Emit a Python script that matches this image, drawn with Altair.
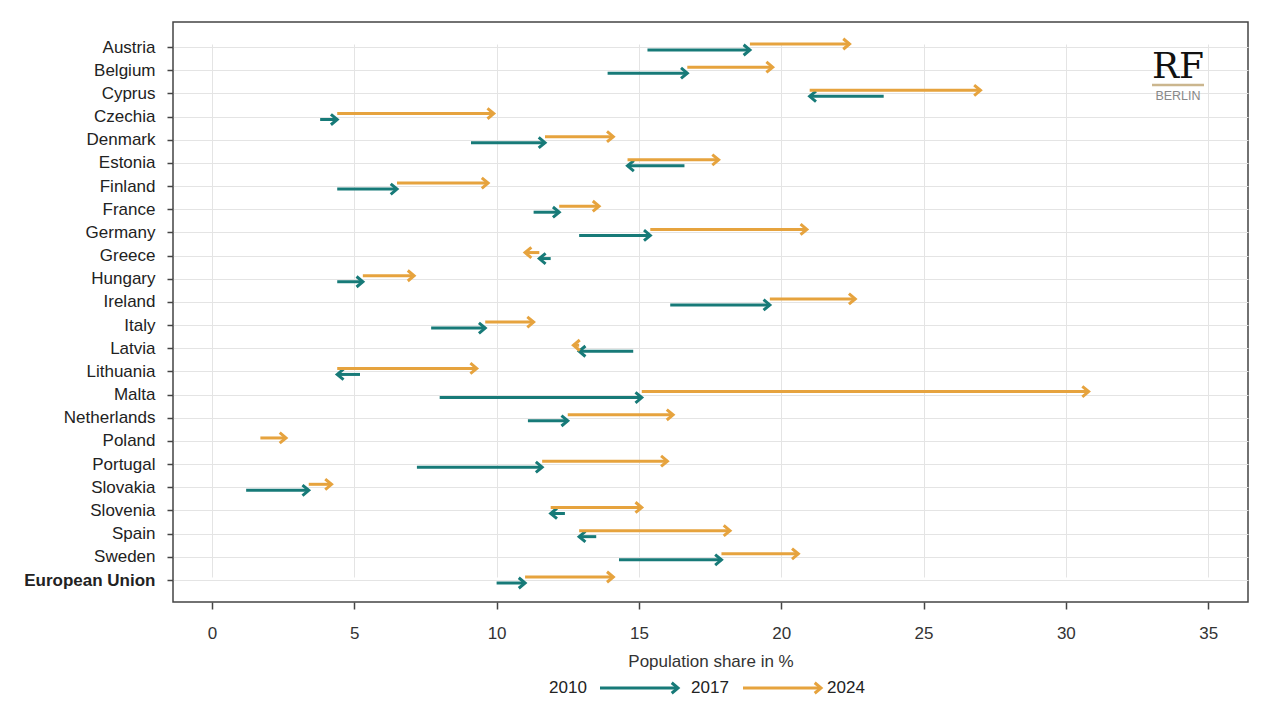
import altair as alt
import pandas as pd

countries = ["Austria", "Belgium", "Cyprus", "Czechia", "Denmark", "Estonia", "Finland",
             "France", "Germany", "Greece", "Hungary", "Ireland", "Italy", "Latvia",
             "Lithuania", "Malta", "Netherlands", "Poland", "Portugal", "Slovakia",
             "Slovenia", "Spain", "Sweden", "European Union"]
v2010 = [15.3, 13.9, 23.6, 3.8, 9.1, 16.6, 4.4, 11.3, 12.9, 11.9, 4.4, 16.1, 7.7, 14.8,
         5.2, 8.0, 11.1, 1.7, 7.2, 1.2, 12.4, 13.5, 14.3, 10.0]
v2017 = [18.9, 16.7, 21.0, 4.4, 11.7, 14.6, 6.5, 12.2, 15.4, 11.5, 5.3, 19.6, 9.6, 12.9,
         4.4, 15.1, 12.5, 1.7, 11.6, 3.4, 11.9, 12.9, 17.9, 11.0]
v2024 = [22.4, 19.7, 27.0, 9.9, 14.1, 17.8, 9.7, 13.6, 20.9, 11.0, 7.1, 22.6, 11.3, 12.7,
         9.3, 30.8, 16.2, 2.6, 16.0, 4.2, 15.1, 18.2, 20.6, 14.1]
legend_years = ["2010", "2017", "2024"]
x_ticks = [0, 5, 10, 15, 20, 25, 30, 35]

df = pd.DataFrame({"country": countries, "a": v2010, "b": v2017, "c": v2024})

W, H = 1075, 580
TEAL = "#177a78"
ORANGE = "#e6a33e"
FONT = "Liberation Sans"
FS = 17
HEAD = "M-1.2,-1L0,0L-1.2,1"

xscale = alt.Scale(domain=[-1.37, 36.4], nice=False, zero=False)
xaxis = alt.Axis(values=x_ticks, title="Population share in %", tickSize=7, labelPadding=16,
                 titlePadding=12, domain=False, grid=True, gridColor="#e4e4e4",
                 labelFontSize=FS, titleFontSize=FS, titleFontWeight="normal",
                 labelColor="#333", titleColor="#333", tickColor="#444", tickWidth=1.5,
                 labelFont=FONT, titleFont=FONT)
yaxis = alt.Axis(title=None, tickSize=6, labelPadding=12, domain=False, grid=True,
                 gridColor="#e4e4e4", labelFontSize=FS, labelColor="#222", tickColor="#444",
                 tickWidth=1.5, labelFont=FONT,
                 labelFontWeight=alt.expr("datum.value == 'European Union' ? 'bold' : 'normal'"))
yenc = alt.Y("country:N", sort=countries,
             scale=alt.Scale(type="point", range=[25, 558], padding=0), axis=yaxis)

base = alt.Chart(df)

teal_shaft = base.mark_rule(color=TEAL, strokeWidth=3, yOffset=3).encode(
    x=alt.X("a:Q", scale=xscale, axis=xaxis), x2="b:Q", y=yenc)
teal_head = base.transform_filter("abs(datum.b - datum.a) > 0.05").transform_calculate(
    ang="datum.b >= datum.a ? 0 : 180").mark_point(
    shape=HEAD, filled=False, color=TEAL, strokeWidth=3, size=110, yOffset=3, opacity=1,
    strokeJoin="miter").encode(
    x="b:Q", y=yenc, angle=alt.Angle("ang:Q", scale=None))

orange_shaft = base.mark_rule(color=ORANGE, strokeWidth=3, yOffset=-3).encode(
    x="b:Q", x2="c:Q", y=yenc)
orange_head = base.transform_filter("abs(datum.c - datum.b) > 0.05").transform_calculate(
    ang="datum.c >= datum.b ? 0 : 180").mark_point(
    shape=HEAD, filled=False, color=ORANGE, strokeWidth=3, size=110, yOffset=-3, opacity=1,
    strokeJoin="miter").encode(
    x="c:Q", y=yenc, angle=alt.Angle("ang:Q", scale=None))

one = pd.DataFrame({"k": [0]})

# legend
LY = 666
legend_layers = []
for txt, xpos in zip(legend_years, [395, 537, 673]):
    legend_layers.append(
        alt.Chart(pd.DataFrame({"t": [txt]})).mark_text(
            font=FONT, fontSize=FS, color="#222", align="center", baseline="middle").encode(
            x=alt.value(xpos), y=alt.value(LY), text="t:N"))
for (x1, x2), col in zip([(427, 505), (570, 648)], [TEAL, ORANGE]):
    legend_layers.append(
        alt.Chart(one).mark_rule(color=col, strokeWidth=3).encode(
            x=alt.value(x1), x2=alt.value(x2), y=alt.value(LY)))
    legend_layers.append(
        alt.Chart(one).mark_point(shape=HEAD, filled=False, color=col, strokeWidth=3,
                                  size=110, opacity=1, strokeJoin="miter").encode(
            x=alt.value(x2), y=alt.value(LY)))

# logo
logo_rf = alt.Chart(pd.DataFrame({"t": ["RF"]})).mark_text(
    font="DejaVu Serif", fontSize=36, color="#111", align="center", baseline="middle").encode(
    x=alt.value(1005), y=alt.value(45), text="t:N")
logo_line = alt.Chart(one).mark_rule(color="#cbb68e", strokeWidth=2.5).encode(
    x=alt.value(979), x2=alt.value(1031), y=alt.value(63))
logo_berlin = alt.Chart(pd.DataFrame({"t": ["BERLIN"]})).mark_text(
    font=FONT, fontSize=12.5, color="#888", align="center", baseline="middle").encode(
    x=alt.value(1005), y=alt.value(74), text="t:N")

chart = alt.layer(
    teal_shaft, teal_head, orange_shaft, orange_head, *legend_layers,
    logo_rf, logo_line, logo_berlin
).properties(
    width=W, height=H, background="white",
    padding={"left": 15, "top": 14, "right": 5, "bottom": 5}
).configure_view(
    stroke="#444", strokeWidth=1.5
)

chart.save("out.html", embed_options={"renderer": "svg", "actions": False})
